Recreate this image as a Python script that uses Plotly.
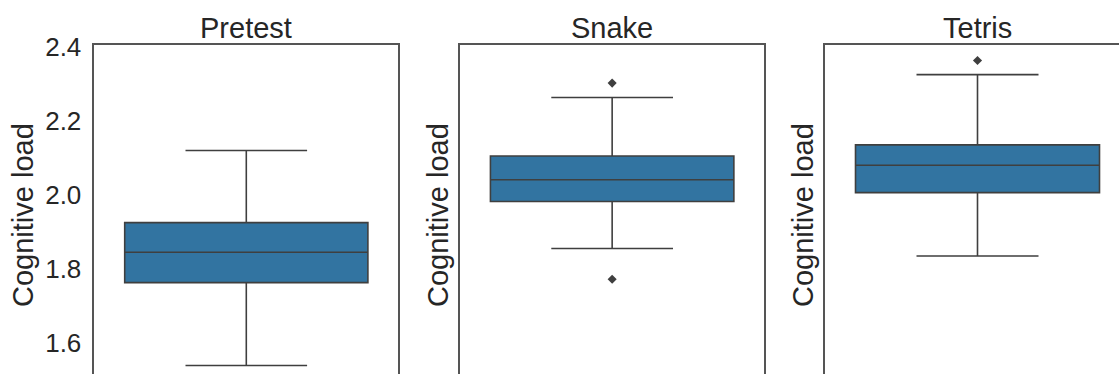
import plotly.graph_objects as go

# Data
groups = ["Pretest", "Snake", "Tetris"]
q1 = [1.763, 1.982, 2.006]
median = [1.845, 2.041, 2.080]
q3 = [1.925, 2.105, 2.135]
lower_fence = [1.539, 1.855, 1.835]
upper_fence = [2.120, 2.263, 2.325]
outliers = {"Pretest": [], "Snake": [2.302, 1.772], "Tetris": [2.363]}
y_ticks = [1.6, 1.8, 2.0, 2.2, 2.4]

W, H = 1119, 374
BOX_FILL = "#3274a1"
LINE = "#3f3f3f"
FRAME = "#555555"
FONT = "Liberation Sans, Arial, sans-serif"

domains = [[94.3 / W, 398.3 / W], [460 / W, 764.3 / W], [825 / W, 1.0]]
xranges = [[-0.5, 0.5], [-0.5, 0.5], [-0.5, -0.5 + 294 / 305]]
ytop = 1 - 45 / H
yrange = [1.516, 2.405]

fig = go.Figure()
for i, g in enumerate(groups):
    xa = "x" if i == 0 else f"x{i+1}"
    ya = "y" if i == 0 else f"y{i+1}"
    fig.add_trace(go.Box(
        x=[g], q1=[q1[i]], median=[median[i]], q3=[q3[i]],
        lowerfence=[lower_fence[i]], upperfence=[upper_fence[i]],
        boxpoints=False, width=0.8, whiskerwidth=0.5,
        fillcolor=BOX_FILL, line=dict(color=LINE, width=1.6),
        xaxis=xa, yaxis=ya, showlegend=False, hoverinfo="skip",
    ))
    if outliers[g]:
        fig.add_trace(go.Scatter(
            x=[g] * len(outliers[g]), y=outliers[g], mode="markers",
            marker=dict(symbol="diamond", size=7, color=LINE),
            xaxis=xa, yaxis=ya, showlegend=False, hoverinfo="skip",
        ))

    xkey = "xaxis" if i == 0 else f"xaxis{i+1}"
    ykey = "yaxis" if i == 0 else f"yaxis{i+1}"
    fig.layout[xkey] = dict(
        domain=domains[i], anchor=ya, side="top", type="category",
        range=xranges[i], showticklabels=False, ticks="", automargin=False,
        showgrid=False, zeroline=False, showline=True, mirror=False,
        linecolor=FRAME, linewidth=1.5, fixedrange=True,
    )
    fig.layout[ykey] = dict(
        domain=[0, ytop], anchor=xa, range=yrange, automargin=False,
        tickvals=y_ticks, ticktext=[f"{v:.1f}" for v in y_ticks],
        showticklabels=(i == 0), ticks="outside" if i == 0 else "",
        ticklen=6, tickcolor="rgba(0,0,0,0)",
        tickfont=dict(family=FONT, size=26, color="#262626"),
        showgrid=False, zeroline=False, showline=True, mirror=(i < 2),
        linecolor=FRAME, linewidth=1.5, fixedrange=True,
    )

    # panel title
    fig.add_annotation(
        text=g, xref="paper", yref="paper",
        x=(domains[i][0] + (domains[i][0] + 305 / W)) / 2 if i == 2 else sum(domains[i]) / 2,
        y=1 - 28 / H, xanchor="center", yanchor="middle", showarrow=False,
        font=dict(family=FONT, size=29, color="#262626"),
    )

# y-axis labels
label_x = [23, 438, 803]
for lx in label_x:
    fig.add_annotation(
        text="Cognitive load", xref="paper", yref="paper",
        x=lx / W, y=1 - 215 / H, xanchor="center", yanchor="middle",
        textangle=-90, showarrow=False,
        font=dict(family=FONT, size=29, color="#262626"),
    )

fig.update_layout(
    width=W, height=H, margin=dict(l=0, r=0, t=0, b=0, autoexpand=False),
    paper_bgcolor="white", plot_bgcolor="white",
)

fig.write_html("out.html", config={"displayModeBar": False})
